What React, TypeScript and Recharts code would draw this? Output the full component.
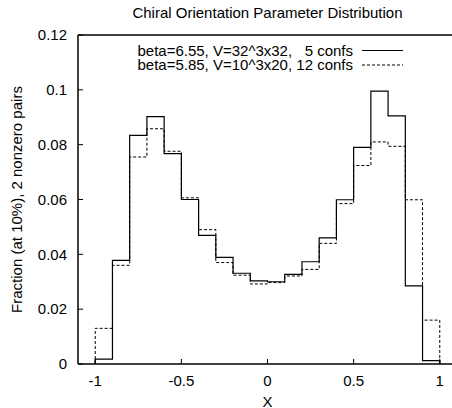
import React from 'react';
import { LineChart, Line, XAxis, YAxis, Legend } from 'recharts';

// Histogram bins (left edges), width 0.1
const binLeftEdges = [-1, -0.9, -0.8, -0.7, -0.6, -0.5, -0.4, -0.3, -0.2, -0.1, 0, 0.1, 0.2, 0.3, 0.4, 0.5, 0.6, 0.7, 0.8, 0.9];
const binRightEnd = 1;

// beta=6.55, V=32^3x32, 5 confs (solid)
const fracBeta655 = [0.0018, 0.0378, 0.0834, 0.0902, 0.0767, 0.0600, 0.0469, 0.0389, 0.0331, 0.0303,
  0.0300, 0.0327, 0.0373, 0.0460, 0.0599, 0.0790, 0.0995, 0.0905, 0.0285, 0.0012];
// beta=5.85, V=10^3x20, 12 confs (dashed)
const fracBeta585 = [0.0130, 0.0360, 0.0755, 0.0858, 0.0776, 0.0606, 0.0490, 0.0370, 0.0324, 0.0292,
  0.0297, 0.0321, 0.0345, 0.0440, 0.0585, 0.0724, 0.0810, 0.0794, 0.0599, 0.0160];

const xTicks = [-1, -0.5, 0, 0.5, 1];
const yTicks = [0, 0.02, 0.04, 0.06, 0.08, 0.1, 0.12];

const title = 'Chiral Orientation Parameter Distribution';
const xLabel = 'X';
const yLabel = 'Fraction (at 10%), 2 nonzero pairs';
const seriesNames = ['beta=6.55, V=32^3x32,   5 confs', 'beta=5.85, V=10^3x20, 12 confs'];

const n = binLeftEdges.length;
const data = [
  { x: binLeftEdges[0], a: 0, b: 0 },
  ...binLeftEdges.map((x, i) => ({ x, a: fracBeta655[i], b: fracBeta585[i] })),
  { x: binRightEnd, a: fracBeta655[n - 1], b: fracBeta585[n - 1] },
  { x: binRightEnd, a: 0, b: 0 },
];

const FONT = '"Liberation Sans", Arial, sans-serif';
const tickStyle = { fill: '#000', fontSize: 15, fontFamily: FONT };

const renderLegend = () => (
  <svg width={320} height={34} style={{ display: 'block', overflow: 'visible' }}>
    {seriesNames.map((name, i) => {
      const cy = 7.5 + i * 14.5;
      return (
        <g key={name}>
          <text
            x={243}
            y={cy + 5.3}
            textAnchor="end"
            fontSize={15}
            fontFamily={FONT}
            fill="#000"
            style={{ whiteSpace: 'pre' }}
          >
            {name}
          </text>
          <line
            x1={252}
            x2={293}
            y1={cy}
            y2={cy}
            stroke="#000"
            strokeWidth={1}
            strokeDasharray={i === 1 ? '3 2' : undefined}
          />
        </g>
      );
    })}
  </svg>
);

export default function App() {
  return (
    <div style={{ position: 'absolute', left: 0, top: 0, width: 452, height: 408, overflow: 'hidden', background: '#fff' }}>
      <LineChart width={462} height={408} data={data} margin={{ top: 34, right: 5, left: 0, bottom: 0 }}>
        <XAxis
          dataKey="x"
          type="number"
          domain={[-1.1, 1.1]}
          ticks={xTicks}
          allowDataOverflow
          height={44}
          tickSize={-5}
          tickMargin={16}
          tick={tickStyle}
          axisLine={{ stroke: '#000', strokeWidth: 1.5 }}
          tickLine={{ stroke: '#000' }}
          label={{ value: xLabel, position: 'insideBottom', offset: 1.5, fill: '#000', fontSize: 15, fontFamily: FONT }}
        />
        <XAxis
          xAxisId="top"
          orientation="top"
          dataKey="x"
          type="number"
          domain={[-1.1, 1.1]}
          ticks={xTicks}
          allowDataOverflow
          height={1}
          tickSize={-5}
          tick={false}
          axisLine={{ stroke: '#000', strokeWidth: 1.5 }}
          tickLine={{ stroke: '#000' }}
          label={{ value: title, position: 'top', offset: 16, fill: '#000', fontSize: 15, fontFamily: FONT }}
        />
        <YAxis
          type="number"
          domain={[0, 0.12]}
          ticks={yTicks}
          allowDataOverflow
          width={78}
          tickSize={-5}
          tickMargin={16}
          tick={tickStyle}
          axisLine={{ stroke: '#000', strokeWidth: 1.5 }}
          tickLine={{ stroke: '#000' }}
          label={{ value: yLabel, angle: -90, position: 'insideLeft', offset: 16.5, fill: '#000', fontSize: 15, fontFamily: FONT, style: { textAnchor: 'middle' } }}
        />
        <Legend
          layout="horizontal"
          verticalAlign="middle"
          align="center"
          content={renderLegend}
          wrapperStyle={{ top: 43, left: 110, width: 320, height: 34 }}
        />
        <Line
          xAxisId="top"
          type="stepAfter"
          dataKey="a"
          stroke="none"
          dot={false}
          activeDot={false}
          legendType="none"
          isAnimationActive={false}
        />
        <Line
          type="stepAfter"
          dataKey="a"
          stroke="#000"
          strokeWidth={1.2}
          dot={false}
          activeDot={false}
          isAnimationActive={false}
        />
        <Line
          type="stepAfter"
          dataKey="b"
          stroke="#000"
          strokeWidth={1}
          strokeDasharray="3 2"
          dot={false}
          activeDot={false}
          isAnimationActive={false}
        />
      </LineChart>
    </div>
  );
}
